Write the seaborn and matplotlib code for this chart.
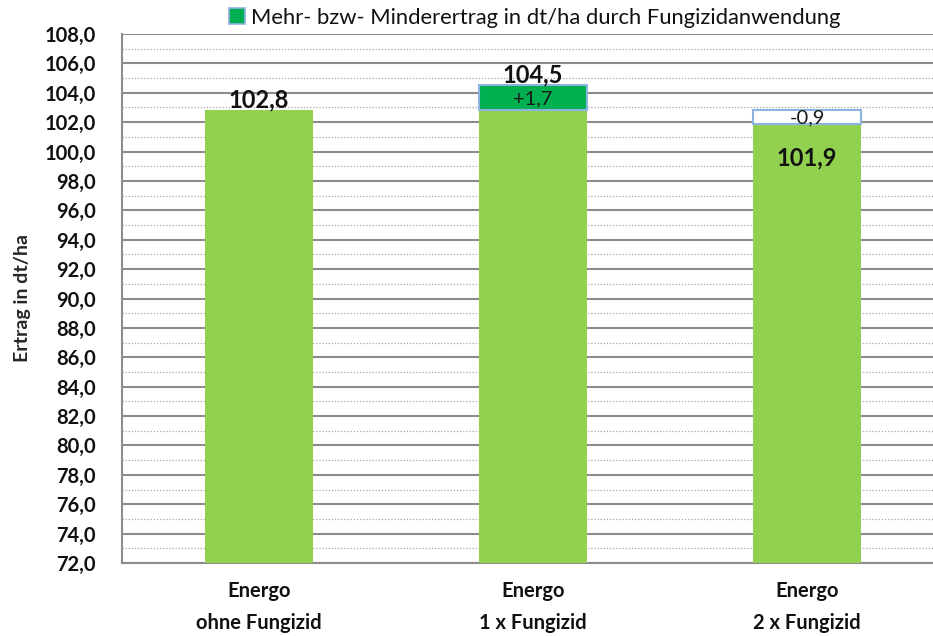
import matplotlib
matplotlib.use("Agg")
import matplotlib.pyplot as plt
from matplotlib.ticker import MultipleLocator, FixedLocator
from matplotlib.patches import Patch
import seaborn as sns
import pandas as pd

categories = ["Energo\nohne Fungizid", "Energo\n1 x Fungizid", "Energo\n2 x Fungizid"]
ertrag = [102.8, 104.5, 101.9]
kontrolle = 102.8
differenz = [None, 1.7, -0.9]
diff_labels = ["", "+1,7", "-0,9"]
legend_label = "Mehr- bzw- Minderertrag in dt/ha durch Fungizidanwendung"
y_label = "Ertrag in dt/ha"

sns.set_style("white")
plt.rcParams['font.family'] = ['Lato', 'DejaVu Sans']
plt.rcParams['text.color'] = '#111111'
plt.rcParams['xtick.color'] = '#111111'
plt.rcParams['ytick.color'] = '#111111'

base = [min(e, kontrolle) for e in ertrag]
df = pd.DataFrame({"Sorte": categories, "Basis": base})

fig = plt.figure(figsize=(9.33, 6.36), dpi=100)
ax = fig.add_axes([122/933, (636-563)/636, (944-122)/933, (563-34)/636])

LIGHT = "#92D050"
DARK = "#00B050"
EDGE = "#8DB3E2"
W = 0.395

sns.barplot(data=df, x="Sorte", y="Basis", color=LIGHT, saturation=1,
            width=W, ax=ax, zorder=3, linewidth=0)

for i, d in enumerate(differenz):
    if d is None:
        continue
    lo = min(ertrag[i], kontrolle)
    h = abs(d)
    fc = DARK if d > 0 else "white"
    ax.bar(i, h, bottom=lo, width=W, color=fc, edgecolor=EDGE, linewidth=1.5, zorder=4)
    ax.text(i, lo + h/2 - 0.05, diff_labels[i], ha="center", va="center", fontsize=14.5,
            color="#1a1a1a", zorder=5)

# value labels
for i, e in enumerate(ertrag):
    txt = f"{e:.1f}".replace(".", ",")
    if e >= kontrolle:
        ax.text(i, e - 0.05, txt, ha="center", va="bottom", fontsize=17,
                fontweight="bold", color="#111111", zorder=5)
    else:
        ax.text(i, e - 2.3, txt, ha="center", va="center", fontsize=17,
                fontweight="bold", color="#111111", zorder=5)

ax.set_ylim(72, 108)
ax.set_xlim(-0.5, 2.5)
ax.yaxis.set_major_locator(MultipleLocator(2))
ax.yaxis.set_minor_locator(MultipleLocator(1))
ax.set_yticklabels([f"{v:.1f}".replace(".", ",") for v in ax.get_yticks()])
ax.grid(axis="y", which="major", color="#8c8c8c", linewidth=1.5, zorder=0)
ax.grid(axis="y", which="minor", color="#a6a6a6", linewidth=0.9,
        linestyle=(0, (1, 1.5)), zorder=0)
ax.set_axisbelow(True)

ax.tick_params(axis="y", which="major", length=6, width=1.5, color="#8c8c8c",
               labelsize=14.5, pad=13)
ax.tick_params(axis="y", which="minor", length=0)
for lab in ax.get_yticklabels():
    lab.set_fontweight("bold")

ax.xaxis.set_minor_locator(FixedLocator([-0.5, 0.5, 1.5, 2.5]))
ax.tick_params(axis="x", which="major", length=0, labelsize=14.5, pad=13)
ax.tick_params(axis="x", which="minor", length=7, width=1.5, color="#8c8c8c",
               direction="out")
for lab in ax.get_xticklabels():
    lab.set_fontweight("bold")
    lab.set_linespacing(1.75)
ax.set_xlabel("")
ax.set_ylabel(y_label, fontsize=14, fontweight="bold")
ax.yaxis.set_label_coords((31 - 122) / 822, 0.5)

for s in ["top", "right"]:
    ax.spines[s].set_visible(False)
for s in ["left", "bottom"]:
    ax.spines[s].set_color("#8c8c8c")
    ax.spines[s].set_linewidth(1.5)

handle = Patch(facecolor=DARK, edgecolor=EDGE, linewidth=1.2)
fig.legend([handle], [legend_label], loc="upper left",
           bbox_to_anchor=(214/933, 1.012), frameon=False, fontsize=15.8,
           handlelength=0.7, handleheight=0.7, handletextpad=0.3, borderpad=0.2)

fig.savefig("out.png", dpi=100)
